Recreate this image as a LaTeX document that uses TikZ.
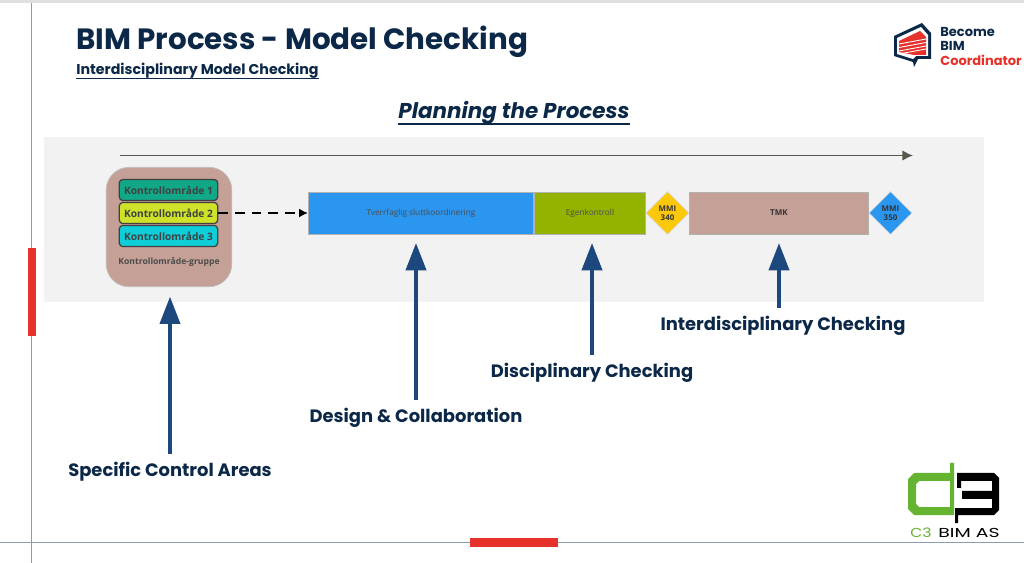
\documentclass[tikz,border=0pt]{standalone}
\usepackage{fontspec}
\setmainfont{Poppins}
\newfontfamily\boxfont{Open Sans}
\usepackage{tikz}
\usetikzlibrary{positioning,arrows.meta,shapes.geometric,calc}
\definecolor{bcNavy}{RGB}{12,40,72}
\definecolor{bcArrow}{RGB}{29,72,125}
\definecolor{bcBand}{RGB}{242,242,242}
\definecolor{bcRed}{RGB}{231,50,44}
\definecolor{bcRule}{RGB}{140,155,175}
\definecolor{bcRose}{RGB}{197,160,150}
\definecolor{bcBlue}{RGB}{43,150,240}
\definecolor{bcOlive}{RGB}{146,180,0}
\definecolor{bcAmber}{RGB}{252,200,10}
\definecolor{bcTeal}{RGB}{16,168,134}
\definecolor{bcLime}{RGB}{205,226,40}
\definecolor{bcCyan}{RGB}{14,206,218}
\definecolor{bcGreen}{RGB}{100,180,50}
\definecolor{bcLine}{RGB}{88,88,78}
\tikzset{
  callout/.style={font=\bfseries\fontsize{10.2}{12}\selectfont, text=bcNavy, inner sep=0pt},
  pointer/.style={draw=bcArrow, line width=1.9pt, -{Triangle[length=15.5pt,width=11.5pt]}},
  phase/.style={draw=black!30, minimum height=23.9pt, inner sep=0pt, font=\boxfont\fontsize{4.7}{5}\selectfont, text=black!70},
  gate/.style={diamond, draw=black!15, minimum width=24.5pt, minimum height=24.5pt, inner sep=0pt, align=center, font=\boxfont\bfseries\fontsize{4.5}{5}\selectfont, text=black!80},
  area/.style={draw=black!75, line width=0.7pt, rounded corners=2pt, minimum width=56pt, minimum height=12pt, inner sep=0pt, font=\boxfont\bfseries\fontsize{5.8}{7}\selectfont, text=black!75},
}
\begin{document}
\begin{tikzpicture}[x=0.02cm, y=-0.02cm]
\useasboundingbox (0,0) rectangle (1024,563);
\fill[white] (0,0) rectangle (1024,563);
% rammelinjer
\fill[black!12] (0,0) rectangle (1024,3);
\draw[bcRule, line width=0.5pt] (31.5,3) -- (31.5,563);
\draw[bcRule, line width=0.5pt] (0,542.5) -- (1024,542.5);
\fill[bcRed] (28,248) rectangle (36,336);
\fill[bcRed] (470,538) rectangle (558,547);
% titler
\node[anchor=west, inner sep=0pt, text=bcNavy, font=\bfseries\fontsize{16.7}{20}\selectfont] (title) at (76,41.5) {BIM Process - Model Checking};
\node[anchor=base west, inner sep=0pt, text=bcNavy, font=\bfseries\fontsize{8.1}{10}\selectfont] (subtitle) at (76,75) {Interdisciplinary Model Checking};
\node[anchor=base, inner sep=0pt, text=bcNavy, font=\bfseries\itshape\fontsize{12.2}{15}\selectfont] (planning) at (514,119) {Planning the Process};
\draw[bcNavy, line width=0.7pt] ([yshift=0.6pt]subtitle.south west) -- ([yshift=0.6pt]subtitle.south east);
\draw[bcNavy, line width=0.9pt] ([yshift=0.6pt]planning.south west) -- ([yshift=0.6pt]planning.south east);
% bakgrunn og tidslinje
\fill[bcBand] (44,137) rectangle (984,302);
\coordinate (lineStart) at (120,155.5);
\coordinate (lineEnd) at (913,155.5);
\draw[bcLine, line width=1pt, -{Latex[length=6pt,width=6pt]}] (lineStart) -- (lineEnd);
% kontrollomraader
\node[draw=black!25, fill=bcRose, rounded corners=13pt, minimum width=71.5pt, minimum height=68pt, inner sep=0pt] (group) at (169,227) {};
\node[area, fill=bcTeal] (areaA) at (168.5,190) {Kontrollområde 1};
\node[area, fill=bcLime, below=0.4pt of areaA] (areaB) {Kontrollområde 2};
\node[area, fill=bcCyan, below=0.4pt of areaB] (areaC) {Kontrollområde 3};
\node[inner sep=0pt, text=black!70, font=\boxfont\bfseries\fontsize{4.9}{6}\selectfont] (groupLabel) at (169,262) {Kontrollområde-gruppe};
% prosessboksene
\node[phase, fill=bcBlue, anchor=west, minimum width=128.2pt] (design) at (308,213) {Tverrfaglig sluttkoordinering};
\node[phase, fill=bcOlive, anchor=west, minimum width=63.4pt] (self) at (design.east) {Egenkontroll};
\node[gate, fill=bcAmber] (gateA) at (667.5,213) {MMI\\340};
\node[phase, fill=bcRose, anchor=west, minimum width=102pt, font=\boxfont\bfseries\fontsize{4.6}{5}\selectfont, text=black!80] (tmk) at (689,213) {TMK};
\node[gate, fill=bcBlue] (gateB) at (890.5,213) {MMI\\350};
\draw[line width=1.2pt, dash pattern=on 5.5pt off 4pt, -{Latex[length=5pt,width=5pt]}] (areaB.east) -- (areaB.east -| design.west);
% forklaringer
\node[callout] (lblAreas) at (170,472) {Specific Control Areas};
\node[callout] (lblDesign) at (416,417.5) {Design \& Collaboration};
\node[callout] (lblSelf) at (592,372.5) {Disciplinary Checking};
\node[callout] (lblTmk) at (783,325.5) {Interdisciplinary Checking};
\draw[pointer, shorten >=5.5pt, shorten <=4.5pt] (lblAreas.north) -- (lblAreas.north |- group.south);
\draw[pointer, shorten >=5pt, shorten <=4.5pt] (lblDesign.north) -- (lblDesign.north |- design.south);
\draw[pointer, shorten >=5pt, shorten <=4.5pt] (lblSelf.north) -- (lblSelf.north |- self.south);
\draw[pointer, shorten >=5pt, shorten <=4.5pt] ([xshift=-4*0.02cm]lblTmk.north) -- ([xshift=-4*0.02cm]lblTmk.north |- tmk.south);
% logo oppe til hoyre
\fill[bcNavy] (894,36) -- (922,23) -- (931,33) -- (931,59) -- (918,59) -- (914,67) -- (913,62) -- (894,56) -- cycle;
\fill[white] (897,38) -- (921,27) -- (928,35) -- (928,56) -- (916,56) -- (913,59) -- (897,54) -- cycle;
\fill[bcRed] (899,41) -- (920,31) -- (926,37) -- (926,55) -- (914,55) -- (899,52) -- cycle;
\foreach \y in {43,46.5,50,53}
  \draw[white, line width=0.5pt] (899,\y+1) -- (926,\y-4);
% logo nede til hoyre
\fill[bcGreen, even odd rule] (914,473) -- (950,473) -- (950,463) -- (954,463) -- (954,515) -- (914,515) -- (908,509) -- (908,479) -- cycle
  (919,481) -- (950,481) -- (950,507) -- (919,507) -- (916,504) -- (916,484) -- cycle;
\fill[black] (957,473) -- (994,473) -- (999,478) -- (999,510) -- (994,515) -- (958,515) -- (958,523) -- (955,523) -- (955,508) -- (992,508) -- (992,499) -- (962,499) -- (962,491) -- (992,491) -- (992,481) -- (961,481) -- (961,488) -- (957,488) -- cycle;
\node[anchor=west, inner sep=0pt, text=bcGreen, font=\fontsize{7.4}{9}\selectfont] (logoD) at (910,533) {\scalebox{1.2}[1]{C3}};
\node[anchor=west, inner sep=0pt, text=black, font=\fontsize{7.4}{9}\selectfont] (logoE) at (938,533) {\scalebox{1.45}[1]{BIM AS}};
\node[anchor=west, inner sep=0pt, text=bcNavy, font=\bfseries\fontsize{7.4}{9}\selectfont] (logoA) at (940,31.5) {Become};
\node[anchor=west, inner sep=0pt, text=bcNavy, font=\bfseries\fontsize{7.4}{9}\selectfont] (logoB) at (940,46) {BIM};
\node[anchor=west, inner sep=0pt, text=bcRed, font=\bfseries\fontsize{7.4}{9}\selectfont] (logoC) at (940,60.5) {Coordinator};
\end{tikzpicture}
\end{document}
